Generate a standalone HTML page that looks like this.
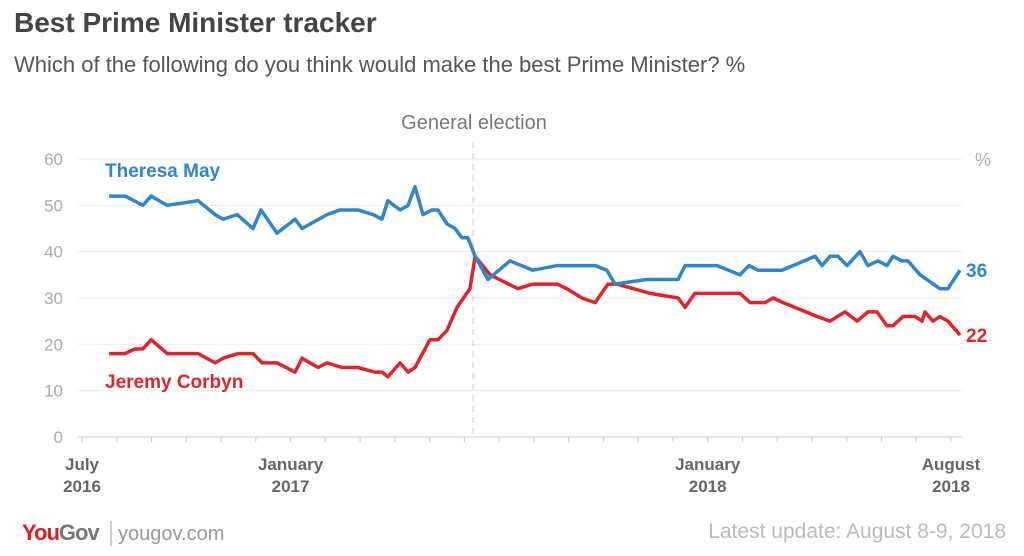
<!DOCTYPE html>
<html><head><meta charset="utf-8"><style>
body{margin:0;background:#fff;font-family:"Liberation Sans",sans-serif;}
#wrap{position:relative;width:1024px;height:556px;overflow:hidden;}
</style></head><body>
<div id="wrap">
<svg id="chart" width="1024" height="556">
<text x="14" y="32" font-size="28" font-weight="bold" fill="#444">Best Prime Minister tracker</text>
<text x="14" y="72" font-size="22" fill="#555">Which of the following do you think would make the best Prime Minister? %</text>
<text x="474" y="129" font-size="20" fill="#777" text-anchor="middle">General election</text>
<text x="975" y="166" font-size="18" fill="#aaa">%</text>
<g id="grid"></g><g id="lines"></g>
<text x="22" y="540" font-size="22" font-weight="bold" fill="#e21a22" letter-spacing="-1">You<tspan fill="#777">Gov</tspan></text>
<line x1="111" y1="521" x2="111" y2="546" stroke="#999"/>
<text x="118" y="540" font-size="20" fill="#999">yougov.com</text>
<text x="1006" y="538" font-size="21" fill="#bbb" text-anchor="end">Latest update: August 8-9, 2018</text>
</svg>
</div>
<script>
const yTicks=[0,10,20,30,40,50,60];
const xLabels=[["July","2016",0],["January","2017",6],["January","2018",18],["August","2018",25]];
const mayMonths=[0.78,1.24,1.75,1.99,2.45,3.34,3.83,4.06,4.46,4.92,5.15,5.61,6.13,6.33,7.05,7.42,7.94,8.37,8.63,8.80,9.15,9.38,9.58,9.81,10.07,10.24,10.50,10.73,10.93,11.10,11.31,11.68,12.31,12.97,13.67,14.76,15.10,15.33,16.25,17.15,17.35,18.27,18.93,19.19,19.45,20.14,21.09,21.29,21.52,21.75,22.01,22.38,22.61,22.90,23.16,23.33,23.59,23.76,24.11,24.68,24.91,25.26];
const mayValues=[52,52,50,52,50,51,48,47,48,45,49,44,47,45,48,49,49,48,47,51,49,50,54,48,49,49,46,45,43,43,39,34,38,36,37,37,36,33,34,34,37,37,35,37,36,36,39,37,39,39,37,40,37,38,37,39,38,38,35,32,32,36];
const corbynMonths=[0.78,1.24,1.52,1.75,1.99,2.45,3.34,3.83,4.06,4.49,4.92,5.18,5.61,6.13,6.33,6.79,7.05,7.48,7.94,8.43,8.63,8.80,9.15,9.38,9.58,10.01,10.24,10.50,10.79,11.16,11.31,11.74,12.54,12.97,13.67,13.95,14.38,14.76,15.13,15.39,16.34,17.15,17.35,17.63,18.93,19.22,19.65,19.88,20.17,21.15,21.52,21.95,22.30,22.61,22.87,23.16,23.33,23.62,23.97,24.17,24.25,24.48,24.68,24.91,25.26];
const corbynValues=[18,18,19,19,21,18,18,16,17,18,18,16,16,14,17,15,16,15,15,14,14,13,16,14,15,21,21,23,28,32,39,35,32,33,33,32,30,29,33,33,31,30,28,31,31,29,29,30,29,26,25,27,25,27,27,24,24,26,26,25,27,25,26,25,22];
const electionMonth=11.25;
const NS="http://www.w3.org/2000/svg";
const X=m=>82+m*(951-82)/25, Y=v=>437-v*(437-159)/60;
function mk(t,a,p){const e=document.createElementNS(NS,t);for(const k in a)e.setAttribute(k,a[k]);p.appendChild(e);return e;}
const g=document.getElementById('grid'), L=document.getElementById('lines');
yTicks.forEach(v=>{
 const l=mk('line',{x1:78,x2:962,y1:Y(v),y2:Y(v),stroke:v===0?'#ccc':'#eee'},g);
 
 
 const t=mk('text',{x:63,y:Y(v)+6,'font-size':17,fill:'#aaa','text-anchor':'end'},g);t.textContent=v;
 
 
});
for(let m=0;m<=25;m++){const t=mk('line',{x1:X(m),x2:X(m),y1:437,y2:442,stroke:'#ccc'},g);
 
 }
xLabels.forEach(d=>{
 const t=mk('text',{x:X(d[2]),y:470,'font-size':17,'font-weight':'bold',fill:'#666','text-anchor':'middle'},g);
 
 
 mk('tspan',{x:X(d[2]),dy:0},t).textContent=d[0];mk('tspan',{x:X(d[2]),dy:22},t).textContent=d[1];
});
const el=mk('line',{x1:X(electionMonth),x2:X(electionMonth),y1:142,y2:437,stroke:'#ccc','stroke-dasharray':'6,5'},g);


function series(ms,vs,col,name){
 const p=mk('polyline',{points:ms.map((m,i)=>X(m)+','+Y(vs[i])).join(' '),fill:'none',stroke:col,'stroke-width':3.5,'stroke-linejoin':'round'},L);
 
 
 const i=vs.length-1,t=mk('text',{x:X(ms[i])+6,y:Y(vs[i])+7,'font-size':19,'font-weight':'bold',fill:col},L);t.textContent=vs[i];
 
 
}
series(corbynMonths,corbynValues,'#e3232b','corbyn-line');
series(mayMonths,mayValues,'#2f86c8','may-line');
const a=mk('text',{x:105,y:177,'font-size':19,'font-weight':'bold',fill:'#2f86c8'},L);a.textContent='Theresa May';


const b=mk('text',{x:105,y:388,'font-size':19,'font-weight':'bold',fill:'#e3232b'},L);b.textContent='Jeremy Corbyn';


</script>
</body></html>
